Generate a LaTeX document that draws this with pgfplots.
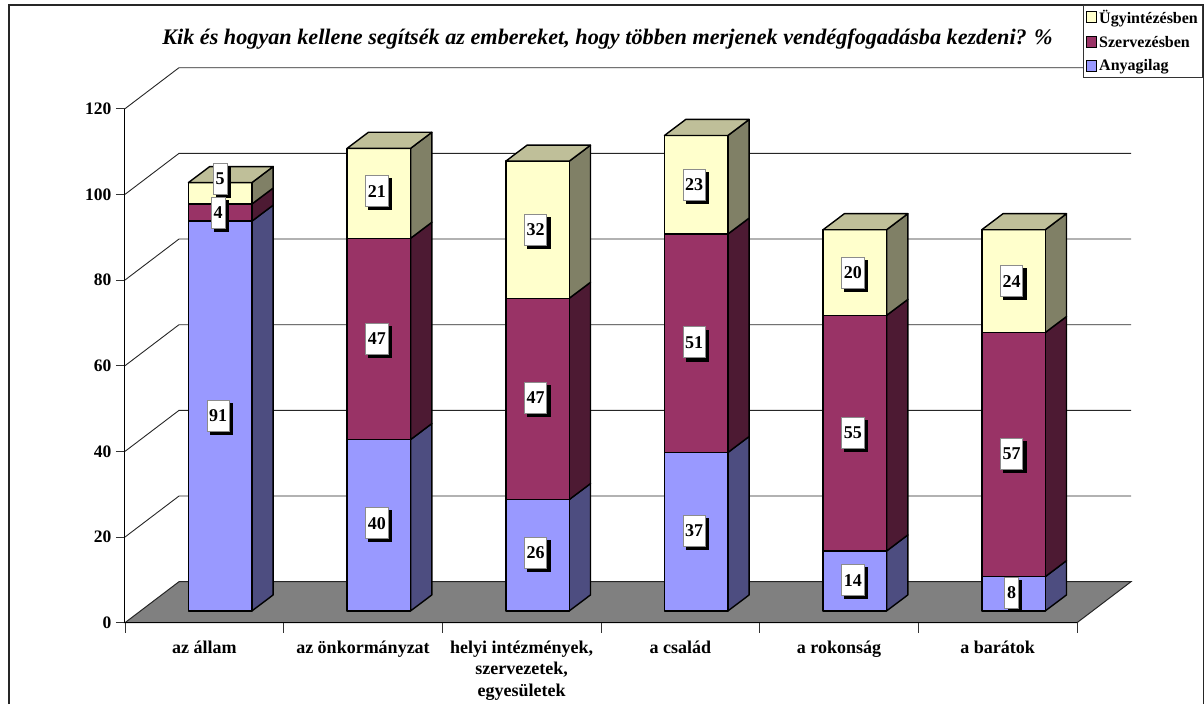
\documentclass[border=0pt]{standalone}
\usepackage{fontspec}
\setmainfont{Liberation Serif}
\usepackage{pgfplots}
\pgfplotsset{compat=1.18}
\usetikzlibrary{shadows}

\definecolor{kekF}{HTML}{9999FF}
\definecolor{kekS}{HTML}{4D4D80}
\definecolor{bordoF}{HTML}{993366}
\definecolor{bordoS}{HTML}{4D1A33}
\definecolor{sargaF}{HTML}{FFFFCC}
\definecolor{sargaS}{HTML}{808066}
\definecolor{sargaT}{HTML}{BFBF99}

% depth of the 3D box and of the bars, in axis units
\def\wdx{0.3403}
\def\wdy{9.57}
\def\bx{0.1}
\def\by{2.75}
\def\bw{0.2}
\def\bdx{0.134}
\def\bdy{3.74}

% one wall line: value
\newcommand\wall[1]{%
  \pgfmathsetmacro\xb{-0.5+\wdx}%
  \pgfmathsetmacro\xc{5.5+\wdx}%
  \pgfmathsetmacro\yb{#1+\wdy}%
  \edef\tmp{\noexpand\addplot[black!85,line width=0.9pt,forget plot] coordinates {(-0.5,#1)(\xb,\yb)(\xc,\yb)};}\tmp
}

% one stacked segment: category, from, to, front colour, side colour
\newcommand\seg[5]{%
  \pgfmathsetmacro\xa{#1+\bx-\bw}%
  \pgfmathsetmacro\xb{#1+\bx+\bw}%
  \pgfmathsetmacro\xc{\xb+\bdx}%
  \pgfmathsetmacro\ya{#2+\by}%
  \pgfmathsetmacro\yb{#3+\by}%
  \pgfmathsetmacro\yc{\ya+\bdy}%
  \pgfmathsetmacro\yd{\yb+\bdy}%
  \edef\tmp{\noexpand\addplot[fill=#5,draw=black,line width=1.4pt,line join=round,forget plot] coordinates {(\xb,\ya)(\xc,\yc)(\xc,\yd)(\xb,\yb)} --cycle;}\tmp
  \edef\tmp{\noexpand\addplot[fill=#4,draw=black,line width=1.4pt,line join=round,forget plot] coordinates {(\xa,\ya)(\xb,\ya)(\xb,\yb)(\xa,\yb)} --cycle;}\tmp
}

% top face: category, height
\newcommand\tetej[2]{%
  \pgfmathsetmacro\xa{#1+\bx-\bw}%
  \pgfmathsetmacro\xb{#1+\bx+\bw}%
  \pgfmathsetmacro\xc{\xb+\bdx}%
  \pgfmathsetmacro\xd{\xa+\bdx}%
  \pgfmathsetmacro\yb{#2+\by}%
  \pgfmathsetmacro\yd{\yb+\bdy}%
  \edef\tmp{\noexpand\addplot[fill=sargaT,draw=black,line width=1.4pt,line join=round,forget plot] coordinates {(\xa,\yb)(\xb,\yb)(\xc,\yd)(\xd,\yd)} --cycle;}\tmp
}

% one bar: category, Anyagilag, Szervezes, Ugyintezes
\newcommand\oszlop[4]{%
  \pgfmathsetmacro\sa{#2}%
  \pgfmathsetmacro\sb{#2+#3}%
  \pgfmathsetmacro\sc{#2+#3+#4}%
  \edef\tmpa{\noexpand\seg{#1}{0}{\sa}{kekF}{kekS}\noexpand\seg{#1}{\sa}{\sb}{bordoF}{bordoS}\noexpand\seg{#1}{\sb}{\sc}{sargaF}{sargaS}\noexpand\tetej{#1}{\sc}}\tmpa
}

% data label: category, middle height, text, x offset in axis units
\newcommand\cimke[4]{%
  \pgfmathsetmacro\lx{#1+\bx-0.0126+#4}%
  \pgfmathsetmacro\ly{#2+\by}%
  \edef\tmp{\noexpand\node[lab] at (axis cs:\lx,\ly) {#3};}\tmp
}

\begin{document}
\begin{tikzpicture}[x=1pt,y=1pt,
  lab/.style={draw=black!45,line width=0.8pt,fill=white,minimum height=31pt,inner xsep=2.3pt,inner ysep=0pt,
    font=\bfseries\fontsize{18}{20}\selectfont,
    copy shadow={shadow xshift=3.2pt,shadow yshift=-3.2pt,draw=black,fill=black}}]
\useasboundingbox (-125,-81.3) rectangle (1079,622.7);
\draw[black!85,line width=1.3pt] (-116,-81.3) -- (-116,617.7) -- (1078.3,617.7) -- (1078.3,-81.3);
\begin{axis}[
  at={(0pt,0pt)},anchor=south west,
  scale only axis,width=952pt,height=514pt,
  xmin=-0.5,xmax=5.5,ymin=0,ymax=120,
  clip=false,axis on top,
  axis x line*=bottom,axis y line*=left,
  axis line style={-,black,line width=1pt},
  xtick={0,1,2,3,4,5},
  xticklabels={az állam,az önkormányzat,{helyi intézmények,\\szervezetek,\\egyesületek},a család,a rokonság,a barátok},
  minor xtick={-0.5,0.5,1.5,2.5,3.5,4.5,5.5},
  ytick={0,20,40,60,80,100,120},
  tick align=outside,major tick length=9pt,minor tick length=10pt,
  xtick style={draw=none},
  minor x tick style={draw=black!80,line width=0.9pt},
  ytick style={draw=black!80,line width=0.9pt},
  /pgf/number format/assume math mode=true,
  xticklabel style={font=\bfseries\fontsize{18}{21.5}\selectfont,align=center,yshift=-5.5pt},
  yticklabel style={font=\bfseries\fontsize{17.5}{20}\selectfont,xshift=-1pt},
  title={Kik és hogyan kellene segítsék az embereket, hogy többen merjenek vendégfogadásba kezdeni? \%},
  title style={at={(axis description cs:0.5068,1.124)},anchor=center,font=\bfseries\itshape\fontsize{22.2}{24}\selectfont},
  legend style={at={(axis description cs:1.1327,1.2018)},anchor=north east,draw=black!80,line width=0.9pt,
    fill=white,font=\bfseries\fontsize{16}{18}\selectfont,row sep=7pt,inner sep=3pt},
  legend cell align=left,
  legend image code/.code={\draw[#1] (0pt,-5pt) rectangle (10pt,6pt);},
]
% floor and walls
\addplot[fill=black!50,draw=black!85,line width=1pt,forget plot] coordinates {(-0.5,0)(5.5,0)(5.8403,9.57)(-0.1597,9.57)} --cycle;
\wall{20}\wall{40}\wall{60}\wall{80}\wall{100}\wall{120}
% bars
\oszlop{0}{91}{4}{5}
\oszlop{1}{40}{47}{21}
\oszlop{2}{26}{47}{32}
\oszlop{3}{37}{51}{23}
\oszlop{4}{14}{55}{20}
\oszlop{5}{8}{57}{24}
% labels
\cimke{0}{45.5}{91}{0}
\cimke{0}{100.8}{5}{0.0126}
\cimke{0}{93}{4}{0}
\cimke{1}{20.5}{40}{0}
\cimke{1}{63.5}{47}{0}
\cimke{1}{98}{21}{0}
\cimke{2}{13.5}{26}{0}
\cimke{2}{49.7}{47}{0}
\cimke{2}{89}{32}{0}
\cimke{3}{18.7}{37}{0}
\cimke{3}{62.7}{51}{0}
\cimke{3}{99.5}{23}{0}
\cimke{4}{7.2}{14}{0}
\cimke{4}{41.5}{55}{0}
\cimke{4}{79}{20}{0}
\cimke{5}{4.2}{8}{0}
\cimke{5}{36.7}{57}{0}
\cimke{5}{77}{24}{0}
% legend
\addlegendimage{fill=sargaF,draw=black,line width=1pt}
\addlegendentry{Ügyintézésben}
\addlegendimage{fill=bordoF,draw=black,line width=1pt}
\addlegendentry{Szervezésben}
\addlegendimage{fill=kekF,draw=black,line width=1pt}
\addlegendentry{Anyagilag}
\end{axis}
\end{tikzpicture}
\end{document}
